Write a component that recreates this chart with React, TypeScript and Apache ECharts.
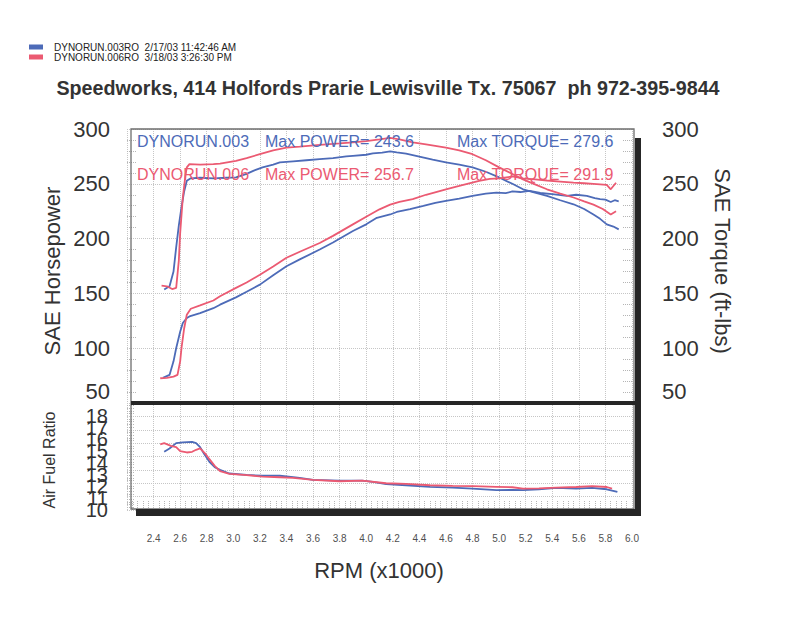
import React, { useEffect, useRef } from "react";
import * as echarts from "echarts";

const FONT = "'Liberation Sans', Arial, sans-serif";
const BLUE = "#4d6bb8";
const RED = "#eb5a72";
const INK = "#333333";
const GRIDC = "#c6c6c6";

const RUN_003 = "DYNORUN.003RO  2/17/03 11:42:46 AM";
const RUN_006 = "DYNORUN.006RO  3/18/03 3:26:30 PM";
const TITLE = "Speedworks, 414 Holfords Prarie Lewisville Tx. 75067  ph 972-395-9844";

const maxPower003 = 243.6;
const maxTorque003 = 279.6;
const maxPower006 = 256.7;
const maxTorque006 = 291.9;

// RPM axis (x1000)
const rpmMin = 2.2;
const rpmMax = 6.0;
const rpmStep = 0.2;
// upper axes
const saeMin = 50;
const saeMax = 300;
const saeStep = 50;
// AFR axis
const afrMin = 10;
const afrMax = 18;
const afrTickLabels = [10, 11, 12, 13, 14, 15, 16, 17, 18];

// Run 003 (blue) horsepower
const rpmHp003 = [2.47, 2.52, 2.55, 2.57, 2.6, 2.62, 2.65, 2.67, 2.75, 2.85, 2.9, 3.02, 3.1, 3.2, 3.3, 3.4, 3.5, 3.65, 3.75, 3.9, 4.0, 4.08, 4.18, 4.23, 4.33, 4.43, 4.52, 4.6, 4.7, 4.8, 4.9, 4.98, 5.05, 5.1, 5.16, 5.23, 5.31, 5.4, 5.51, 5.58, 5.66, 5.72, 5.76, 5.8, 5.84, 5.87, 5.9];
const hp003 = [72.9, 75.6, 88, 100, 115, 123, 127.5, 129, 132, 136.5, 139.7, 146.4, 151.5, 158, 166.5, 174.8, 181, 190, 196.5, 206.9, 213, 219, 222, 224.3, 227, 229.8, 232.5, 234.4, 236.5, 239, 241, 242, 241.5, 243, 242.5, 243.6, 241.6, 240.5, 239, 240, 239, 237, 236, 235.5, 233.4, 235, 234];

// Run 003 (blue) torque
const rpmTq003 = [2.48, 2.52, 2.55, 2.57, 2.59, 2.61, 2.63, 2.65, 2.68, 2.75, 2.85, 2.95, 3.02, 3.1, 3.15, 3.22, 3.3, 3.35, 3.45, 3.55, 3.65, 3.75, 3.85, 3.9, 4.0, 4.05, 4.12, 4.18, 4.23, 4.3, 4.4, 4.5, 4.6, 4.7, 4.8, 4.9, 5.0, 5.1, 5.18, 5.27, 5.36, 5.46, 5.56, 5.64, 5.71, 5.76, 5.81, 5.86, 5.9];
const tq003 = [153.5, 156.5, 170, 192, 212, 228.6, 243, 252.7, 255, 255.5, 255, 255.5, 255.8, 259, 261.8, 265, 267.5, 269.5, 270.5, 271.5, 272.5, 273.5, 275, 275.5, 276.5, 277.7, 278.5, 279.6, 278.7, 277.5, 274.7, 272, 269.5, 267.5, 265, 261, 255.8, 250, 245, 242, 239, 235, 231.3, 227, 222, 218, 213, 211, 208.4];

// Run 006 (red) horsepower
const rpmHp006 = [2.45, 2.5, 2.55, 2.58, 2.6, 2.61, 2.63, 2.65, 2.68, 2.75, 2.85, 2.9, 3.02, 3.1, 3.2, 3.3, 3.4, 3.5, 3.65, 3.75, 3.9, 4.0, 4.1, 4.18, 4.25, 4.35, 4.45, 4.6, 4.7, 4.85, 4.93, 5.0, 5.1, 5.18, 5.27, 5.36, 5.46, 5.56, 5.64, 5.71, 5.76, 5.81, 5.84, 5.88];
const hp006 = [72.6, 73, 74, 75.6, 88, 100, 118, 130.6, 136, 139, 143.5, 147.4, 155, 160, 167, 174.5, 182.5, 188, 196, 202.5, 213, 220, 226.7, 231, 233.5, 236, 240, 245, 248, 252.7, 254.5, 255, 256.7, 255, 254, 253, 252, 251, 250.5, 250, 249.5, 249, 245, 251];

// Run 006 (red) torque
const rpmTq006 = [2.46, 2.5, 2.54, 2.57, 2.59, 2.6, 2.62, 2.64, 2.65, 2.67, 2.75, 2.85, 2.9, 3.02, 3.1, 3.2, 3.3, 3.4, 3.5, 3.65, 3.8, 3.9, 4.0, 4.1, 4.18, 4.25, 4.35, 4.45, 4.6, 4.7, 4.8, 4.9, 5.0, 5.1, 5.18, 5.27, 5.36, 5.46, 5.56, 5.64, 5.71, 5.78, 5.84, 5.88];
const tq006 = [157, 156.5, 154, 155, 180, 205, 237.5, 258, 265, 268, 267.5, 268, 268.5, 271, 273.5, 277, 280.5, 283, 284, 285.6, 286.8, 287.8, 289, 290.5, 291.9, 290.5, 287.8, 286, 283, 280.5, 277, 271.5, 265, 259, 254, 249.5, 245, 241, 237.5, 234, 231, 227, 222, 225];

// Air fuel ratio
const rpmAfr003 = [2.48, 2.52, 2.57, 2.62, 2.69, 2.72, 2.75, 2.78, 2.82, 2.86, 2.9, 2.97, 3.1, 3.22, 3.35, 3.5, 3.6, 3.8, 3.97, 4.05, 4.15, 4.3, 4.48, 4.65, 4.8, 4.98, 5.1, 5.18, 5.3, 5.43, 5.58, 5.7, 5.81, 5.89];
const afr003 = [14.36, 14.6, 15.0, 15.05, 15.1, 15.0, 14.7, 14.2, 13.6, 13.2, 13.0, 12.73, 12.62, 12.56, 12.56, 12.4, 12.25, 12.2, 12.2, 12.1, 11.93, 11.85, 11.73, 11.68, 11.6, 11.48, 11.5, 11.48, 11.55, 11.65, 11.6, 11.65, 11.55, 11.35];
const rpmAfr006 = [2.45, 2.48, 2.53, 2.57, 2.6, 2.65, 2.69, 2.72, 2.75, 2.79, 2.82, 2.86, 2.9, 2.97, 3.1, 3.22, 3.35, 3.45, 3.6, 3.8, 3.97, 4.15, 4.3, 4.48, 4.65, 4.8, 4.98, 5.1, 5.18, 5.3, 5.43, 5.58, 5.7, 5.81, 5.85];
const afr006 = [14.9, 15.0, 14.8, 14.7, 14.4, 14.3, 14.35, 14.5, 14.6, 14.2, 13.8, 13.3, 12.9, 12.7, 12.6, 12.5, 12.45, 12.4, 12.25, 12.15, 12.2, 12.0, 11.95, 11.85, 11.8, 11.78, 11.73, 11.7, 11.6, 11.62, 11.68, 11.72, 11.78, 11.72, 11.6];

const pairs = (xs: number[], ys: number[]) => xs.map((x, i) => [x, ys[i]]);

const dotted = { color: GRIDC, type: "dotted" as const, width: 1 };

function buildOption() {
  const lineSeries = (name: string, color: string, xi: number, yi: number, data: number[][]) => ({
    type: "line",
    name,
    xAxisIndex: xi,
    yAxisIndex: yi,
    data,
    showSymbol: false,
    symbol: "none",
    color,
    lineStyle: { color, width: 1.8 },
    z: 5,
  });

  const upperLabel = (margin: number) => ({
    fontSize: 22,
    color: INK,
    fontFamily: FONT,
    margin,
    formatter: (v: number) => (v === saeMin ? "{lo|" + v + "}" : String(v)),
    rich: { lo: { fontSize: 22, color: INK, fontFamily: FONT, padding: [0, 0, 24, 0] } },
  });

  const t = (text: string, x: number, y: number, color: string, size: number, rotation = 0, align = "left") => ({
    type: "text",
    x,
    y,
    rotation,
    z: 20,
    style: {
      text,
      fill: color,
      font: `${size}px ${FONT}`,
      fontSize: size,
      fontFamily: FONT,
      textAlign: align,
      textVerticalAlign: "middle",
      verticalAlign: "middle",
      align,
    },
  });

  const dark = "#262626";

  return {
    animation: false,
    backgroundColor: "#ffffff",
    textStyle: { fontFamily: FONT },
    title: {
      text: TITLE,
      left: 383,
      textAlign: "center",
      top: 73,
      textStyle: { fontSize: 19.7, fontWeight: "bold", color: INK, fontFamily: FONT },
    },
    legend: {
      data: [RUN_003, RUN_006],
      orient: "vertical",
      left: 24,
      top: 37,
      icon: "rect",
      itemWidth: 14,
      itemHeight: 5,
      itemGap: 0,
      textStyle: { fontSize: 10, color: "#222", fontFamily: FONT, padding: [0, 0, 0, 6] },
    },
    grid: [
      { left: 127, top: 129, width: 505, height: 274 },
      { left: 127, top: 403, width: 505, height: 107 },
      // label band for the compressed AFR tick labels (9.5 .. 19)
      { left: 127, top: 404, width: 505, height: 111.9 },
    ],
    xAxis: [
      {
        type: "value",
        gridIndex: 0,
        min: rpmMin,
        max: rpmMax,
        interval: rpmStep,
        axisLine: { show: false },
        axisTick: { show: false },
        axisLabel: { show: false },
        splitLine: { show: true, lineStyle: dotted },
      },
      {
        type: "value",
        gridIndex: 1,
        min: rpmMin,
        max: rpmMax,
        interval: rpmStep,
        axisLine: { show: false },
        axisTick: { show: false, inside: true },
        minorTick: { show: true, splitNumber: 5, length: 10, lineStyle: { color: "#b5b5b5", type: "dotted" } },
        axisLabel: {
          fontSize: 10,
          color: "#505050",
          fontFamily: FONT,
          margin: 23,
          formatter: (v: number) => (v < rpmMin + 0.1 ? "" : v.toFixed(1)),
        },
        splitLine: { show: true, lineStyle: dotted },
      },
      {
        type: "value",
        gridIndex: 2,
        min: rpmMin,
        max: rpmMax,
        show: false,
      },
    ],
    yAxis: [
      {
        type: "value",
        gridIndex: 0,
        position: "left",
        min: saeMin,
        max: saeMax,
        interval: saeStep,
        axisLine: { show: false },
        axisTick: { show: false, inside: true },
        minorTick: { show: true, splitNumber: 5, length: 10, lineStyle: { color: "#b5b5b5", type: "dotted" } },
        axisLabel: upperLabel(17),
        splitLine: { show: true, lineStyle: dotted },
      },
      {
        type: "value",
        gridIndex: 0,
        position: "right",
        min: saeMin,
        max: saeMax,
        interval: saeStep,
        axisLine: { show: false },
        axisTick: { show: false, inside: true },
        minorTick: { show: true, splitNumber: 5, length: 10, lineStyle: { color: "#b5b5b5", type: "dotted" } },
        axisLabel: upperLabel(30),
        splitLine: { show: false },
      },
      {
        type: "value",
        gridIndex: 1,
        position: "left",
        min: afrMin,
        max: afrMax,
        interval: 1,
        axisLine: { show: false },
        axisTick: { show: false, inside: true },
        minorTick: { show: true, splitNumber: 5, length: 8, lineStyle: { color: "#b5b5b5", type: "dotted" } },
        axisLabel: { show: false },
        splitLine: { show: true, lineStyle: dotted },
      },
      {
        // label-only axis: the AFR labels sit compressed as in the print-out
        type: "value",
        gridIndex: 2,
        position: "left",
        min: afrMin - 0.5,
        max: afrMax + 1,
        interval: 0.5,
        axisLine: { show: false },
        axisTick: { show: false },
        splitLine: { show: false },
        axisLabel: {
          fontSize: 20,
          color: INK,
          fontFamily: FONT,
          margin: 19,
          formatter: (v: number) => (afrTickLabels.indexOf(v) >= 0 ? String(v) : ""),
        },
      },
    ],
    series: [
      lineSeries(RUN_003, BLUE, 0, 1, pairs(rpmTq003, tq003)),
      lineSeries(RUN_003, BLUE, 0, 0, pairs(rpmHp003, hp003)),
      lineSeries(RUN_006, RED, 0, 1, pairs(rpmTq006, tq006)),
      lineSeries(RUN_006, RED, 0, 0, pairs(rpmHp006, hp006)),
      lineSeries(RUN_003, BLUE, 1, 2, pairs(rpmAfr003, afr003)),
      lineSeries(RUN_006, RED, 1, 2, pairs(rpmAfr006, afr006)),
    ],
    graphic: [
      // frame
      { type: "rect", z: 10, shape: { x: 131, y: 129, width: 503, height: 380 }, style: { fill: "none", stroke: "#6e6e6e", lineWidth: 1.3 } },
      { type: "rect", z: 10, shape: { x: 131, y: 401, width: 504, height: 4 }, style: { fill: dark } },
      { type: "rect", z: 10, shape: { x: 635, y: 138, width: 6, height: 378 }, style: { fill: dark } },
      { type: "rect", z: 10, shape: { x: 136, y: 509, width: 505, height: 7 }, style: { fill: dark } },
      // in-plot run annotations
      t("DYNORUN.003", 137, 141, BLUE, 16),
      t("Max POWER= " + maxPower003.toFixed(1), 265, 141, BLUE, 16),
      t("Max TORQUE= " + maxTorque003.toFixed(1), 457, 141, BLUE, 16),
      t("DYNORUN.006", 137, 174, RED, 16),
      t("Max POWER= " + maxPower006.toFixed(1), 265, 174, RED, 16),
      t("Max TORQUE= " + maxTorque006.toFixed(1), 457, 174, RED, 16),
      // axis names
      t("SAE Horsepower", 52, 271, INK, 22, Math.PI / 2, "center"),
      t("SAE Torque (ft-lbs)", 722, 261, INK, 22, -Math.PI / 2, "center"),
      t("Air Fuel Ratio", 49, 460, INK, 16, Math.PI / 2, "center"),
      t("RPM (x1000)", 379, 570, INK, 22, 0, "center"),
    ],
  };
}

export default function App() {
  const ref = useRef<HTMLDivElement>(null);
  useEffect(() => {
    if (!ref.current) return;
    const chart = echarts.init(ref.current, undefined, { renderer: "svg" });
    chart.setOption(buildOption() as any);
    return () => chart.dispose();
  }, []);
  return (
    <div
      ref={ref}
      style={{ position: "fixed", left: 0, top: 0, width: 800, height: 618, background: "#fff" }}
    />
  );
}
